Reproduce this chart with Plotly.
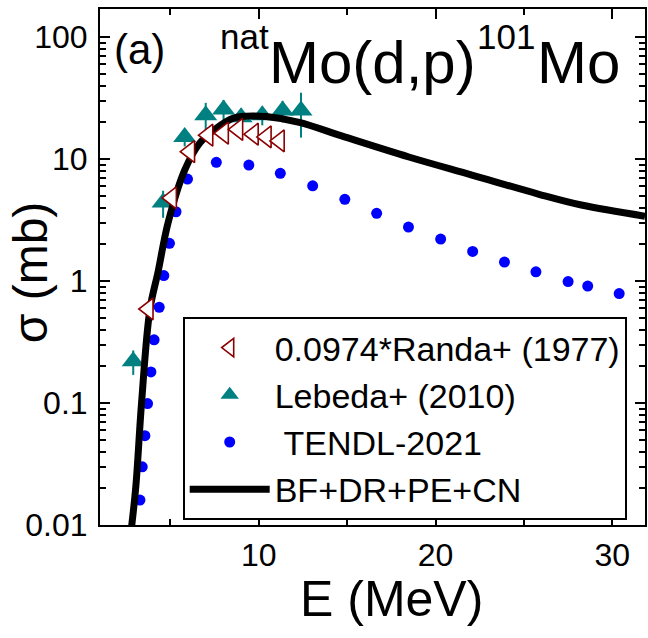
import plotly.graph_objects as go

# natMo(d,p)101Mo excitation function
randa_E = [3.75, 5.07, 6.10, 7.13, 8.01, 8.82, 9.70, 10.43, 11.17]
randa_sigma = [0.59, 4.8, 11.5, 15.7, 16.3, 17.5, 16.0, 15.2, 14.1]

lebeda_E = [2.90, 4.59, 5.81, 7.00, 8.01, 9.00, 10.20, 11.35, 12.39]
lebeda_sigma = [0.22, 4.4, 15.2, 22.9, 25.5, 22.0, 22.9, 25.0, 25.0]
lebeda_err = [0.05, 1.1, 2.5, 6.0, 5.0, 4.0, 4.0, 5.0, 10.0]

tendl_E = [3.28, 3.41, 3.56, 3.71, 3.90, 4.08, 4.37, 4.63, 4.95, 5.32, 5.97,
           7.60, 9.44, 11.22, 13.05, 14.87, 16.67, 18.47, 20.29, 22.10, 23.90,
           25.68, 27.50, 28.61, 30.39]
tendl_sigma = [0.016, 0.030, 0.054, 0.099, 0.18, 0.33, 0.61, 1.11, 2.04, 3.70, 6.85,
               9.40, 8.93, 7.64, 6.04, 4.68, 3.59, 2.77, 2.21, 1.75, 1.43,
               1.19, 0.99, 0.91, 0.79]

model_E = [2.80, 3.05, 3.37, 3.84, 4.31, 4.87, 5.81, 6.66, 7.60, 8.54, 9.29,
           10.42, 12.29, 14.73, 18.49, 22.06, 25.81, 28.25, 31.85]
model_sigma = [0.0095, 0.021, 0.10, 0.58, 1.2, 3.0, 8.1, 13.5, 17.9, 21.6, 22.5,
               22.3, 20.0, 15.4, 10.4, 7.4, 5.17, 4.2, 3.4]

x_ticks = [10, 20, 30]
y_ticks = [0.01, 0.1, 1, 10, 100]
y_ticktext = ["0.01", "0.1", "1", "10", "100"]

FONT = "Liberation Sans, Arial, sans-serif"
W, H = 648, 638
L, R, T, B = 100, 1, 9, 113
PW, PH = W - L - R, H - T - B


def px(x):
    return (x - L) / PW


def py(y):
    return (H - B - y) / PH


fig = go.Figure()
fig.add_trace(go.Scatter(
    x=lebeda_E, y=lebeda_sigma, mode="markers", name="Lebeda+ (2010)",
    marker=dict(symbol="triangle-up", size=20, color="#008080"),
    error_y=dict(type="data", array=lebeda_err, color="#008080", thickness=2, width=0),
    legendrank=2, legendgroup="b"))
fig.add_trace(go.Scatter(
    x=tendl_E, y=tendl_sigma, mode="markers", name=" TENDL-2021",
    marker=dict(symbol="circle", size=11, color="#0000FF"),
    legendrank=3, legendgroup="c"))
fig.add_trace(go.Scatter(
    x=model_E, y=model_sigma, mode="lines", name="BF+DR+PE+CN",
    line=dict(color="black", width=7, shape="spline"),
    legendrank=4, legendgroup="d"))
fig.add_trace(go.Scatter(
    x=randa_E, y=randa_sigma, mode="markers", name="0.0974*Randa+ (1977)",
    marker=dict(symbol="triangle-left", size=19, color="white",
                line=dict(color="#8B0000", width=1.6)),
    legendrank=1, legendgroup="a"))

axis_common = dict(
    showline=True, linewidth=2, linecolor="black", mirror="allticks",
    ticks="inside", ticklen=10, tickwidth=2, tickcolor="black",
    showgrid=False, zeroline=False,
    tickfont=dict(size=32, family=FONT, color="black"),
)

minor_y = [k * 10 ** p for p in range(-2, 3) for k in range(2, 10)]

fig.update_layout(
    width=W, height=H,
    margin=dict(l=L, r=R, t=T, b=B),
    paper_bgcolor="white", plot_bgcolor="white",
    font=dict(family=FONT, color="black"),
    xaxis=dict(range=[1.02, 31.85], tickmode="array", tickvals=x_ticks,
               minor=dict(tickmode="linear", tick0=0, dtick=5, ticks="inside",
                          ticklen=6, tickwidth=2, tickcolor="black"),
               ticklabelstandoff=1, **axis_common),
    yaxis=dict(type="log", range=[-2, 2.2304], tickmode="array",
               tickvals=y_ticks, ticktext=y_ticktext,
               minor=dict(tickmode="array", tickvals=minor_y, ticks="inside",
                          ticklen=6, tickwidth=2, tickcolor="black"),
               ticklabelstandoff=4, **axis_common),
    legend=dict(x=px(183), y=py(317), xanchor="left", yanchor="top",
                bordercolor="black", borderwidth=2, bgcolor="white",
                font=dict(size=34, family=FONT, color="black"),
                itemwidth=80, tracegroupgap=0),
    showlegend=True,
)

# Arial advance widths for the reaction label
ADV = {"M": .833, "o": .556, "(": .333, "d": .556, ",": .278, "p": .556, ")": .333,
       "1": .556, "0": .556, "n": .556, "a": .556, "t": .278}


def tw(s, size):
    return sum(ADV[c] for c in s) * size


big, small = 60, 35
x0 = 268
pieces = [("nat", small, x0 - tw("nat", small) - 1, 37),
          ("Mo(d,p)", big, x0, 63)]
x1 = x0 + tw("Mo(d,p)", big) + 2
pieces.append(("101", small, x1, 37))
x2 = x1 + tw("101", small) + 2
pieces.append(("Mo", big, x2, 63))

annotations = []
for txt, size, xl, yc in pieces:
    annotations.append(dict(text=txt, x=px(xl), y=py(yc), xref="paper", yref="paper",
                            xanchor="left", yanchor="middle", showarrow=False,
                            font=dict(size=size, family=FONT, color="black")))
annotations += [
    dict(text="(a)", x=px(112), y=py(49), xref="paper", yref="paper",
         xanchor="left", yanchor="middle", showarrow=False,
         font=dict(size=42, family=FONT, color="black")),
    dict(text="E (MeV)", x=px(393), y=py(599), xref="paper", yref="paper",
         xanchor="center", yanchor="middle", showarrow=False,
         font=dict(size=50, family=FONT, color="black")),
    dict(text="σ (mb)", x=px(30), y=py(272), xref="paper", yref="paper",
         xanchor="center", yanchor="middle", showarrow=False, textangle=-90,
         font=dict(size=48, family=FONT, color="black")),
]
fig.update_layout(annotations=annotations)

fig.write_html("out.html")
